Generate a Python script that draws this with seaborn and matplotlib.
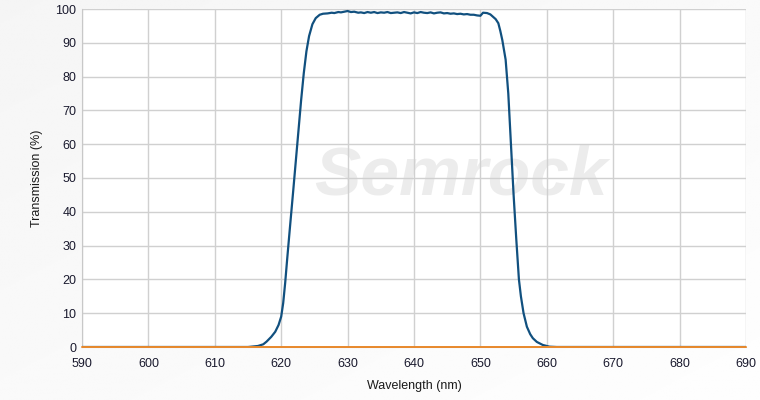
import numpy as np
import pandas as pd
import matplotlib
matplotlib.use('Agg')
import matplotlib.pyplot as plt
import seaborn as sns

# Curva de transmissão do filtro
wavelength = [590, 615, 616.5, 617.3, 617.8, 618.5, 619.1, 619.6, 620.0, 620.3,
              620.6, 620.9, 621.3, 621.8, 622.2, 622.6, 623.0, 623.4, 623.8, 624.2, 624.7,
              625.2, 625.8, 626.3, 627, 627.6, 628, 628.6, 629, 629.5, 630, 630.5,
              631, 631.6, 632, 632.5, 633, 633.5, 634, 634.5, 635, 635.5, 636, 636.5,
              637, 637.5, 638, 638.5, 639, 639.5, 640, 640.5, 641, 641.5, 642, 642.5,
              643, 643.5, 644, 644.5, 645, 645.5, 646, 646.5, 647, 647.5, 648, 648.5,
              649, 649.5, 650.0, 650.4, 651.0, 651.5, 651.9, 652.3, 652.7, 653.0,
              653.3, 653.8, 654.2, 654.6, 655.0, 655.4, 655.8, 656.1, 656.5, 657.0,
              657.5, 657.9, 658.5, 659.4, 660.4, 661.5, 690]
transmission = [0, 0, 0.3, 0.8, 1.6, 3.0, 4.5, 6.5, 9.0, 13.0,
                19.0, 26.0, 35, 46, 55, 64, 73, 81, 87.5, 92, 95.5,
                97.3, 98.3, 98.6, 98.7, 98.9, 98.8, 99.1, 99.0, 99.2, 99.4, 99.1,
                99.2, 98.9, 99.0, 98.8, 99.1, 98.9, 99.1, 98.8, 99.0, 98.9, 99.1, 98.8,
                98.9, 99.0, 98.8, 99.1, 98.9, 98.7, 99.0, 98.8, 99.1, 98.9, 98.8, 99.0,
                98.7, 98.9, 99.0, 98.7, 98.8, 98.6, 98.7, 98.5, 98.6, 98.4, 98.5, 98.3,
                98.3, 98.1, 98.0, 98.9, 98.8, 98.4, 97.7, 97.0, 95.8, 93.5,
                90.8, 85, 75, 60, 45, 32, 20, 15, 10, 6,
                3.8, 2.6, 1.5, 0.6, 0.1, 0, 0]

# Segunda série (zero em toda a faixa)
ref_wavelength = [590, 690]
ref_values = [0, 0]

x_ticks = list(range(590, 691, 10))
y_ticks = list(range(0, 101, 10))

df = pd.DataFrame({'wl': wavelength, 'T': transmission})
df_ref = pd.DataFrame({'wl': ref_wavelength, 'T': ref_values})

sns.set_style('white')
plt.rcParams['font.family'] = ['Liberation Sans', 'DejaVu Sans']

fig = plt.figure(figsize=(7.6, 4.0), dpi=100)

# Fundo com gradiente suave
bg = fig.add_axes([0, 0, 1, 1], zorder=-10)
grad = np.linspace(0, 1, 256)
gx, gy = np.meshgrid(grad, grad)
bg.imshow(0.96 + 0.035 * (gx * 0.5 + gy * 0.5), cmap='gray', vmin=0, vmax=1,
          aspect='auto', extent=[0, 1, 0, 1], origin='upper')
bg.axis('off')

ax = fig.add_axes([82 / 760, 53 / 400, 664 / 760, 338 / 400])
ax.set_facecolor('white')

ax.text(0.57, 0.505, 'Semrock', transform=ax.transAxes, ha='center', va='center',
        fontsize=50, fontweight='bold', style='italic', color='#ececec', zorder=0.5)

sns.lineplot(data=df, x='wl', y='T', ax=ax, color='#11507f', linewidth=1.6,
             zorder=3, estimator=None, sort=False)
sns.lineplot(data=df_ref, x='wl', y='T', ax=ax, color='#e8892b', linewidth=1.4,
             zorder=4, estimator=None, sort=False, clip_on=False)

ax.set_xlim(590, 690)
ax.set_ylim(0, 100)
ax.set_xticks(x_ticks)
ax.set_yticks(y_ticks)
ax.grid(True, color='#d0d0d0', linewidth=1)
ax.set_axisbelow(True)
ax.tick_params(length=0, labelsize=9, colors='#1a1a2e')
ax.tick_params(axis='x', pad=8)
ax.tick_params(axis='y', pad=4)
for s in ['top', 'right']:
    ax.spines[s].set_visible(False)
ax.spines['left'].set_color('#c8c8c8')
ax.spines['bottom'].set_color('#c8c8c8')
ax.set_xlabel('Wavelength (nm)', fontsize=9, color='#1a1a1a', labelpad=7)
ax.set_ylabel('Transmission (%)', fontsize=9, color='#1a1a1a', labelpad=9)

plt.savefig('out.png', dpi=100)
plt.close()
